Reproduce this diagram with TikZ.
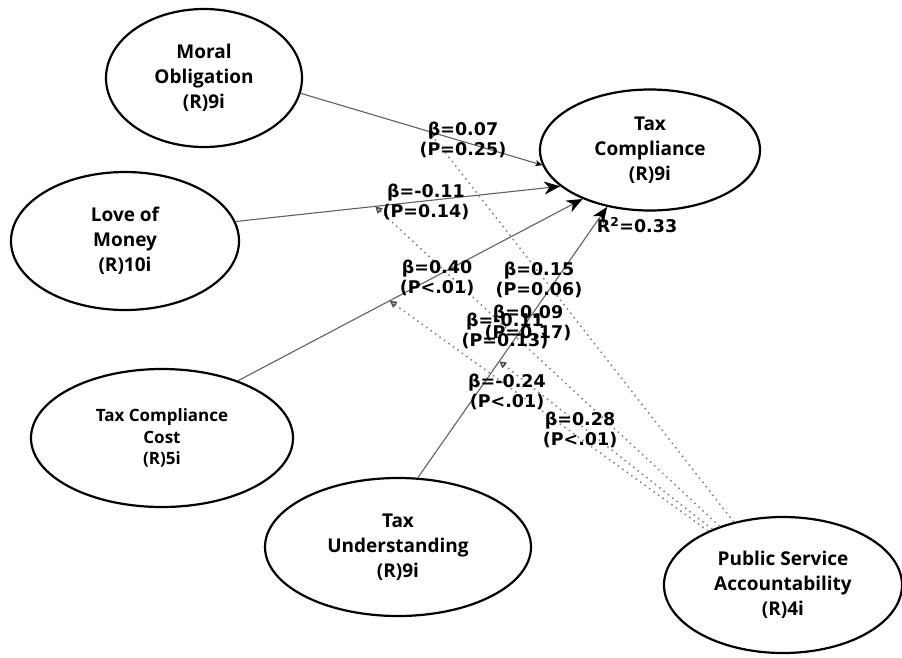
\documentclass[tikz,border=0pt]{standalone}
\usepackage{fontspec}
\newfontfamily\ellfont{Open Sans}
\newfontfamily\labfont{DejaVu Sans}
\usetikzlibrary{shapes.geometric,arrows.meta}
\begin{document}
\begin{tikzpicture}[x=1pt,y=-1pt,
  latent/.style={ellipse, draw=black, line width=2.2pt, align=center, inner sep=0pt,
    font=\ellfont\bfseries\fontsize{19}{25}\selectfont},
  smalllatent/.style={latent, font=\ellfont\bfseries\fontsize{17}{21.5}\selectfont},
  pathline/.style={draw=black!62, line width=1.1pt,
    -{Stealth[length=16pt,width=13pt,inset=5pt,color=black]}},
  smallpath/.style={draw=black!62, line width=1.1pt,
    -{Stealth[length=7pt,width=6pt,inset=2pt,color=black]}},
  modline/.style={draw=black!50, line width=1.5pt, dash pattern=on 1.5pt off 4pt,
    -{Triangle[open,length=7pt,width=7pt,sep=0pt,color=black!70]}},
  coef/.style={align=center, inner sep=0pt,
    font=\labfont\bfseries\fontsize{17.5}{20}\selectfont}]

\useasboundingbox (0,0) rectangle (902,657);
\fill[white] (0,0) rectangle (902,657);

% latent variables
\node[latent, minimum width=196pt, minimum height=138pt] (MO) at (204,78)
  {Moral\\Obligation\\(R)9i};
\node[latent, minimum width=228pt, minimum height=138pt] (LM) at (125,241)
  {Love of\\Money\\(R)10i};
\node[smalllatent, minimum width=262pt, minimum height=138pt] (TCC) at (162,438)
  {Tax Compliance\\Cost\\(R)5i};
\node[latent, minimum width=266pt, minimum height=138pt] (TU) at (398,547)
  {Tax\\Understanding\\(R)9i};
\node[latent, minimum width=220pt, minimum height=121pt] (TC) at (650,150)
  {Tax\\Compliance\\(R)9i};
\node[latent, minimum width=238pt, minimum height=136pt] (PSA) at (783,585)
  {Public Service\\Accountability\\(R)4i};

% direct paths
\draw[smallpath] (MO.-9) -- (TC.188);
\draw[pathline] (LM.10) -- (TC.202);
\draw[pathline] (TCC.37) -- (TC.216);
\draw[pathline] (TU.74) -- (TC.233);

% points on the paths where the moderating lines end
\path (MO.-9) -- (TC.188) coordinate[pos=0.53] (m1);
\path (LM.10) -- (TC.202) coordinate[pos=0.43] (m2);
\path (TCC.37) -- (TC.216) coordinate[pos=0.44] (m3);
\path (TU.74) -- (TC.233) coordinate[pos=0.43] (m4);

% moderating (dotted) lines
\draw[modline] (PSA) -- (m1);
\draw[modline] (PSA) -- (m2);
\draw[modline] (PSA) -- (m3);
\draw[modline] (PSA) -- (m4);

% coefficients
\node[coef] (c1) at (463,140) {β=0.07\\(P=0.25)};
\node[coef] (c2) at (426,202) {β=-0.11\\(P=0.14)};
\node[coef] (c3) at (437,278) {β=0.40\\(P<.01)};
\node[coef] (c4) at (539,280) {β=0.15\\(P=0.06)};
\node[coef] (c5) at (528,323) {β=0.09\\(P=0.17)};
\node[coef] (c6) at (505,331) {β=-0.11\\(P=0.13)};
\node[coef] (c7) at (507,392) {β=-0.24\\(P<.01)};
\node[coef] (c8) at (580,430) {β=0.28\\(P<.01)};
\node[coef] (r2) at (637,225) {R\textsuperscript{2}=0.33};
\end{tikzpicture}
\end{document}
